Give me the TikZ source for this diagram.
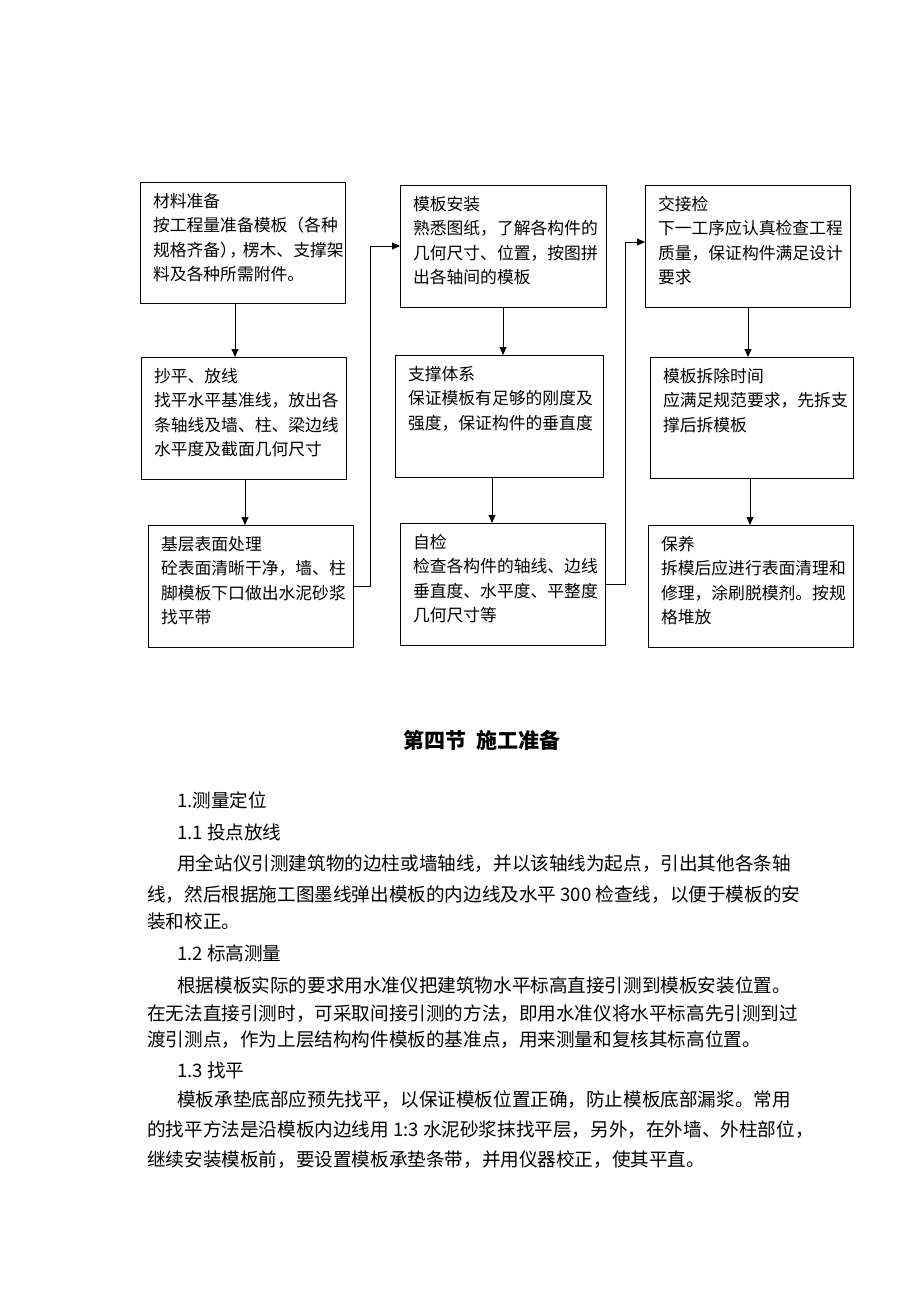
\documentclass[tikz,border=0pt]{standalone}
\usepackage{fontspec}
\setmainfont{Noto Sans CJK SC}
\usetikzlibrary{arrows.meta}
\newcommand{\boxtxt}[3]{\parbox[c][#2pt][t]{#1pt}{\fontsize{16.8pt}{24.6pt}\selectfont\raggedright\leftskip=13pt\relax\parindent=0pt\rule{0pt}{25pt}#3\par}}
\tikzset{
  fbox/.style={draw, line width=0.9pt, inner sep=0pt, outer sep=0pt, anchor=north west},
  arr/.style={-{Triangle[length=8pt,width=7pt]}, line width=0.9pt},
  body/.style={anchor=west, inner sep=0pt, font=\fontsize{18.6pt}{18.6pt}\selectfont},
}
\begin{document}
\begin{tikzpicture}[x=1pt,y=-1pt]
\useasboundingbox[fill=white] (0,0) rectangle (920,1302);
% boxes
\node[fbox] (b1) at (140,182) {\boxtxt{205}{121}{材料准备\\按工程量准备模板（各种\\规格齐备）\kern-0.45em，\kern-0.2em楞木、支撑架\\料及各种所需附件。}};
\node[fbox] (b2) at (400,185) {\boxtxt{206}{122}{模板安装\\熟悉图纸，了解各构件的\\几何尺寸、位置，按图拼\\出各轴间的模板}};
\node[fbox] (b3) at (645,185) {\boxtxt{205}{122}{交接检\\下一工序应认真检查工程\\质量，保证构件满足设计\\要求}};
\node[fbox] (b4) at (141,357) {\boxtxt{205}{122}{抄平、放线\\找平水平基准线，放出各\\条轴线及墙、柱、梁边线\\水平度及截面几何尺寸}};
\node[fbox] (b5) at (395,355) {\boxtxt{208}{122}{支撑体系\\保证模板有足够的刚度及\\强度，保证构件的垂直度}};
\node[fbox] (b6) at (650,357) {\boxtxt{203}{121}{模板拆除时间\\应满足规范要求，先拆支\\撑后拆模板}};
\node[fbox] (b7) at (148,525) {\boxtxt{205}{122}{基层表面处理\\砼表面清晰干净，墙、柱\\脚模板下口做出水泥砂浆\\找平带}};
\node[fbox] (b8) at (400,523) {\boxtxt{205}{122}{自检\\检查各构件的轴线、边线\\垂直度、水平度、平整度\\几何尺寸等}};
\node[fbox] (b9) at (648,525) {\boxtxt{205}{122}{保养\\拆模后应进行表面清理和\\修理，涂刷脱模剂。按规\\格堆放}};
% connectors
\draw[arr] (b1.south west) ++(95,0) coordinate (a1) -- (a1 |- b4.north);
\draw[arr] (b4.south west) ++(104,0) coordinate (a2) -- (a2 |- b7.north);
\draw[arr] (b2.south west) ++(103,0) coordinate (a3) -- (a3 |- b5.north);
\draw[arr] (b5.south west) ++(97,0) coordinate (a4) -- (a4 |- b8.north);
\draw[arr] (b3.south west) ++(103,0) coordinate (a5) -- (a5 |- b6.north);
\draw[arr] (b6.south west) ++(100,0) coordinate (a6) -- (a6 |- b9.north);
\draw[arr] (b7.east) -- ++(17,0) |- (b2.west);
\draw[arr] (b8.east) -- ++(20,0) |- ([yshift=4pt]b3.west);
% title
\node[inner sep=0pt, font=\fontsize{21pt}{21pt}\selectfont\bfseries] (title) at (482,740) {第四节\hspace{0.5em}施工准备};
% body
\node[body] (t1) at (177,800) {1.测量定位};
\node[body] (t2) at (177,832) {1.1 投点放线};
\node[body] (t3) at (177,864) {用全站仪引测建筑物的边柱或墙轴线，并以该轴线为起点，引出其他各条轴};
\node[body] (t4) at (147,895) {线，然后根据施工图墨线弹出模板的内边线及水平 300 检查线，以便于模板的安};
\node[body] (t5) at (147,921) {装和校正。};
\node[body] (t6) at (177,953) {1.2 标高测量};
\node[body] (t7) at (177,985) {根据模板实际的要求用水准仪把建筑物水平标高直接引测到模板安装位置。};
\node[body] (t8) at (147,1014) {在无法直接引测时，可采取间接引测的方法，即用水准仪将水平标高先引测到过};
\node[body] (t9) at (147,1040) {渡引测点，作为上层结构构件模板的基准点，用来测量和复核其标高位置。};
\node[body] (t10) at (177,1070) {1.3 找平};
\node[body] (t11) at (177,1100) {模板承垫底部应预先找平，以保证模板位置正确，防止模板底部漏浆。常用};
\node[body] (t12) at (147,1130) {的找平方法是沿模板内边线用 1:3 水泥砂浆抹找平层，另外，在外墙、外柱部位，};
\node[body] (t13) at (147,1160) {继续安装模板前，要设置模板承垫条带，并用仪器校正，使其平直。};
\end{tikzpicture}
\end{document}
